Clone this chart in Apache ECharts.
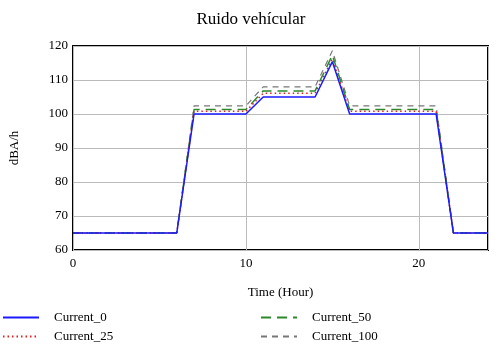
<!DOCTYPE html>
<html>
<head>
<meta charset="UTF-8">
<title>Ruido vehicular</title>
<script src="https://cdn.jsdelivr.net/npm/echarts@6/dist/echarts.min.js"></script>
<style>
  html, body { margin:0; padding:0; background:#fff; }
  #chart { width:502px; height:348px; }
</style>
</head>
<body>
<div id="chart"></div>
<script>
// horas y niveles
var hours    = [0, 6, 7, 10, 11, 14, 15, 16, 21, 22, 24];
var current0   = [65, 65, 100, 100, 105, 105, 115.4, 100, 100, 65, 65];
var current25  = [65, 65, 100.8, 100.8, 106.1, 106.1, 116.2, 100.8, 100.8, 65, 65];
var current50  = [65, 65, 101.3, 101.3, 106.8, 106.8, 117.3, 101.3, 101.3, 65, 65];
var current100 = [65, 65, 102.4, 102.4, 108, 108, 118.6, 102.4, 102.4, 65, 65];
var seriesNames = ['Current_0', 'Current_25', 'Current_50', 'Current_100'];

function pairs(ys){
  var out = [];
  for (var i = 0; i < hours.length; i++) out.push([hours[i], ys[i]]);
  return out;
}

var serif = '"Liberation Serif", "DejaVu Serif", serif';
var chart = echarts.init(document.getElementById('chart'));

function leg(name, left, top){
  return {
    data: [name], left: left, top: top, orient: 'horizontal',
    itemWidth: 36, itemHeight: 10, itemGap: 0,
    itemStyle: { opacity: 0 },
    textStyle: { fontFamily: serif, fontSize: 13, color: '#000', padding: [0, 0, 0, 10] },
    selectedMode: false, padding: 0
  };
}

chart.setOption({
  animation: false,
  title: {
    text: 'Ruido vehícular', left: 'center', top: 6,
    textStyle: { fontFamily: serif, fontSize: 17, fontWeight: 'normal', color: '#000' }
  },
  legend: [
    leg(seriesNames[0], 2, 311),
    leg(seriesNames[1], 2, 330),
    leg(seriesNames[2], 260, 311),
    leg(seriesNames[3], 260, 330)
  ],
  grid: { left: 73, right: 14, top: 46, bottom: 98, show: true, borderColor: '#000', borderWidth: 2 },
  xAxis: {
    type: 'value', min: 0, max: 24, interval: 10,
    name: 'Time (Hour)', nameLocation: 'middle', nameGap: 36,
    nameTextStyle: { fontFamily: serif, fontSize: 13, color: '#000' },
    axisLine: { show: false }, axisTick: { show: false },
    axisLabel: { fontFamily: serif, fontSize: 13, color: '#000', margin: 7,
      showMaxLabel: false },
    splitLine: { show: true, lineStyle: { color: '#bbb', width: 1 } }
  },
  yAxis: {
    type: 'value', min: 60, max: 120, interval: 10,
    name: 'dBA/h', nameLocation: 'middle', nameGap: 52, nameRotate: 90,
    nameTextStyle: { fontFamily: serif, fontSize: 13, color: '#000' },
    axisLine: { show: false }, axisTick: { show: false },
    axisLabel: { fontFamily: serif, fontSize: 13, color: '#000', margin: 5 },
    splitLine: { show: true, lineStyle: { color: '#bbb', width: 1 } }
  },
  series: [
    { name: seriesNames[0], type: 'line', data: pairs(current0), symbol: 'none', z: 5,
      lineStyle: { color: '#1a1aff', width: 1.5, type: 'solid' }, itemStyle: { color: '#1a1aff' } },
    { name: seriesNames[1], type: 'line', data: pairs(current25), symbol: 'none', z: 4,
      lineStyle: { color: '#e02020', width: 1.5, type: [1.5, 3] }, itemStyle: { color: '#e02020' } },
    { name: seriesNames[2], type: 'line', data: pairs(current50), symbol: 'none', z: 3,
      lineStyle: { color: '#2a8a2a', width: 1.5, type: [10, 6] }, itemStyle: { color: '#2a8a2a' } },
    { name: seriesNames[3], type: 'line', data: pairs(current100), symbol: 'none', z: 2,
      lineStyle: { color: '#777', width: 1.2, type: [6, 5] }, itemStyle: { color: '#777' } }
  ]
});
</script>
</body>
</html>
